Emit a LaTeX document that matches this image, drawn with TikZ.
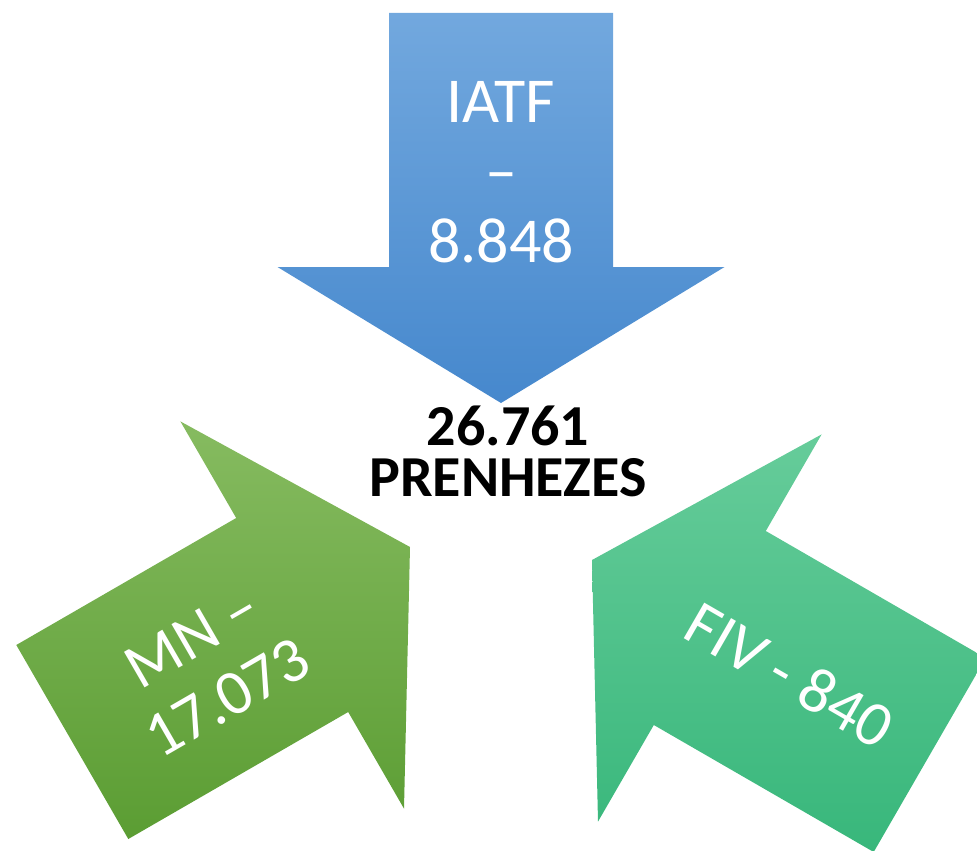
\documentclass[tikz,border=0pt]{standalone}
\usepackage{fontspec}
\setmainfont{Carlito}

\definecolor{blueTop}{HTML}{72A8DE}
\definecolor{blueBot}{HTML}{4688CD}
\definecolor{greenTop}{HTML}{86BB60}
\definecolor{greenBot}{HTML}{5B9D33}
\definecolor{tealTop}{HTML}{66CC9A}
\definecolor{tealBot}{HTML}{38B77B}

\tikzset{
  bigarrow/.style={draw=none, shading angle=0},
  arrowlabel/.style={text=white, inner sep=0pt, align=center, font=\fontsize{64}{70}\selectfont},
  totallabel/.style={text=black, inner sep=0pt, align=center, font=\fontsize{58}{51}\selectfont\bfseries}
}

\begin{document}
\begin{tikzpicture}[x=1pt,y=1pt,yscale=-1,xscale=1]
      \useasboundingbox (0,0) rectangle (977,851);
      \clip (0,0) rectangle (977,851);
      % top arrow
      \draw [bigarrow, top color=blueTop, bottom color=blueBot] (389,13) -- (613,13) -- (613,267) -- (724.5,267) -- (501,403) -- (277.5,267) -- (389,267) -- cycle ;
      % left arrow
      \draw [bigarrow, top color=greenTop, bottom color=greenBot] (410,547) -- (404,808.6) -- (348.2,712) -- (128.3,839) -- (16.3,645) -- (236.2,518) -- (180.4,421.4) -- cycle ;
      % right arrow
      \draw [bigarrow, top color=tealTop, bottom color=tealBot] (592,560) -- (821.6,434.4) -- (765.8,531) -- (985.7,658) -- (873.7,852) -- (653.8,725) -- (598,821.6) -- cycle ;
      \node (iatf) [arrowlabel] at (501,172) {IATF\\–\\8.848};
      \node (mn) [arrowlabel, rotate=30] at (210,667.5) {MN –\\17.073};
      \node (fiv) [arrowlabel, rotate=-30] at (790,675) {FIV - 840};
      \node (total) [totallabel] at (508,451) {26.761\\PRENHEZES};
\end{tikzpicture}
\end{document}
